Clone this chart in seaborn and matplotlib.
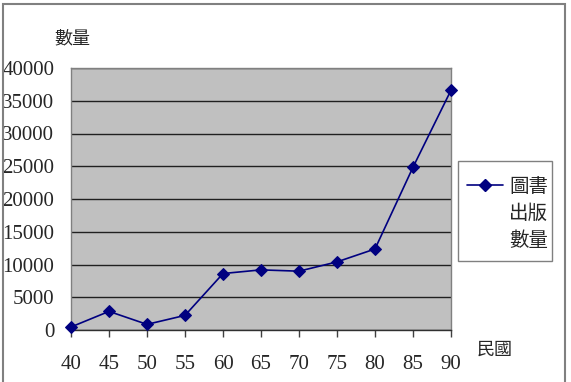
import matplotlib
matplotlib.use("Agg")
import matplotlib.pyplot as plt
from matplotlib.patches import Rectangle
from matplotlib.lines import Line2D
import seaborn as sns
import pandas as pd

# ROC years and number of books published
years = [40, 45, 50, 55, 60, 65, 70, 75, 80, 85, 90]
counts = [460, 2840, 860, 2230, 8620, 9180, 8980, 10400, 12370, 24850, 36610]
y_ticks = [0, 5000, 10000, 15000, 20000, 25000, 30000, 35000, 40000]
legend_lines = ["圖書", "出版", "數量"]

df = pd.DataFrame({"year": years, "count": counts})

sns.set_style("white")
plt.rcParams["font.family"] = ["Liberation Serif", "Noto Sans CJK TC", "DejaVu Sans"]
cjk = ["Noto Sans CJK TC", "DejaVu Sans"]
navy = "#000080"

fig = plt.figure(figsize=(5.71, 3.82), dpi=100)
ax = fig.add_axes([71 / 571, 1 - 330 / 382, 380 / 571, 262 / 382])
ax.set_facecolor("#c0c0c0")

sns.lineplot(data=df, x="year", y="count", ax=ax, color=navy,
             marker="D", markersize=6, markeredgecolor=navy,
             linewidth=1.2, clip_on=False, zorder=3, legend=False)

ax.set_xlim(40, 90)
ax.set_ylim(0, 40000)
ax.set_xticks(years)
ax.set_yticks(y_ticks)
ax.set_xticklabels([str(y) for y in years])
ax.set_yticklabels([str(v) for v in y_ticks])
ax.yaxis.grid(True, color="#202020", linewidth=1)
ax.set_axisbelow(True)
ax.set_xlabel("")
ax.set_ylabel("")
ax.tick_params(axis="x", direction="out", length=5, width=1, color="#404040",
               pad=13, labelsize=15, bottom=True)
ax.tick_params(axis="y", length=0, pad=12, labelsize=15)
for side, sp in ax.spines.items():
    sp.set_color("#808080")
    sp.set_linewidth(1)
ax.spines["bottom"].set_color("#303030")

# legend box drawn by hand so the marker sits on the first text line
W, H = 571, 382
fig.patches.append(Rectangle((458 / W, 1 - 261 / H), 94 / W, 100 / H,
                             transform=fig.transFigure, fill=True,
                             facecolor="white", edgecolor="#808080", linewidth=1))
fig.lines.append(Line2D([467 / W, 503 / W], [1 - 185 / H, 1 - 185 / H],
                        transform=fig.transFigure, color=navy, linewidth=1.2))
fig.lines.append(Line2D([485 / W], [1 - 185 / H], transform=fig.transFigure,
                        color=navy, marker="D", markersize=6, linestyle=""))
for i, line in enumerate(legend_lines):
    fig.text(509 / W, 1 - (186 + 27.5 * i) / H, line, ha="left", va="center",
             fontsize=14, family=cjk)

fig.text(72 / W, 1 - 38 / H, "數量", ha="center", va="center",
         fontsize=13, family=cjk)
fig.text(495 / W, 1 - 350 / H, "民國", ha="center", va="center",
         fontsize=13, family=cjk)

fig.patches.append(Rectangle((3 / W, -0.05), 562 / W, 1 - 4 / H + 0.05,
                             transform=fig.transFigure, fill=False,
                             edgecolor="#808080", linewidth=1.5))

fig.savefig("out.png", dpi=100)
